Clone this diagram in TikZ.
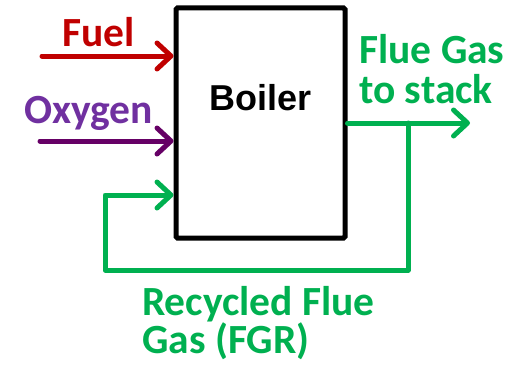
\documentclass[tikz,border=0pt]{standalone}
\usepackage{fontspec}
\setmainfont{Carlito}
\newfontfamily\arialb{Liberation Sans}[BoldFont={* Bold}]
\usetikzlibrary{arrows.meta}
\definecolor{fuelred}{HTML}{C00000}
\definecolor{oxytext}{HTML}{7030A0}
\definecolor{oxyline}{HTML}{660066}
\definecolor{fggreen}{HTML}{00B050}
\tikzset{
  flow/.style={line width=5bp, line join=round, line cap=round,
    -{Straight Barb[length=14bp,width=26bp,line cap=round,line join=round]}},
  lbl/.style={inner sep=0pt, anchor=base west, align=left, font=\fontsize{41.5bp}{40bp}\selectfont\bfseries},
  boilerbox/.style={draw=black, line width=5bp, rounded corners=1.5bp, minimum width=169bp, minimum height=230bp, inner sep=0pt}
}
\begin{document}
\begin{tikzpicture}[x=1bp,y=1bp]
\useasboundingbox (0,0) rectangle (521,364);
\node[boilerbox] (boiler) at (260.5,241) {};
\node[inner sep=0pt, anchor=base, font=\fontsize{36bp}{36bp}\selectfont\arialb\bfseries] (boilerlbl) at (260.5,254) {Boiler};
% labels
\node[lbl, text=fuelred] (fuellbl) at (62,318) {Fuel};
\node[lbl, text=oxytext] (oxylbl) at (24,241) {Oxygen};
\node[lbl, text=fggreen] (fluelbl) at (359,261) {Flue Gas\\to stack};
\node[lbl, text=fggreen, font=\fontsize{41.5bp}{38bp}\selectfont\bfseries] (fgrlbl) at (142,10.5) {Recycled Flue\\Gas (FGR)};
% coordinates
\coordinate (fuelstart) at (42,308);
\coordinate (oxystart) at (40,223);
\coordinate (fgrin) at (176,169);
\coordinate (stacktip) at (470,241);
\coordinate (junction) at (408,241);
\coordinate (bottomleft) at (105,94);
% connectors
\draw[flow, fuelred] (fuelstart) -- (boiler.west |- fuelstart);
\draw[flow, oxyline] (oxystart) -- (boiler.west |- oxystart);
\draw[flow, fggreen] (boiler.east) -- (stacktip);
\draw[flow, fggreen] (junction) |- (bottomleft) |- (boiler.west |- fgrin);
\end{tikzpicture}
\end{document}
